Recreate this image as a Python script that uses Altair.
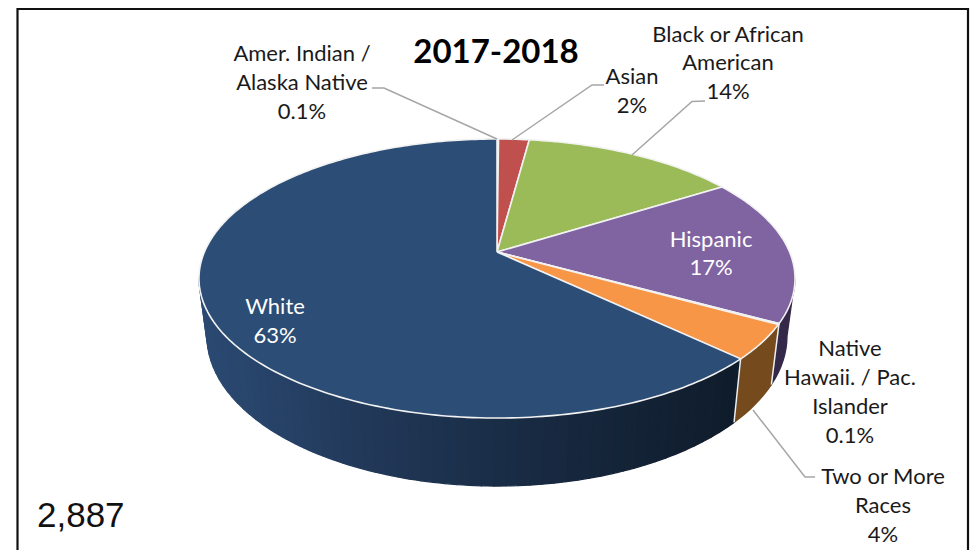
import math
import altair as alt
import pandas as pd

W, H = 962, 542

# Values, clockwise from 12 o'clock
groups = ["Amer. Indian / Alaska Native", "Asian", "Black or African American",
          "Hispanic", "Native Hawaii. / Pac. Islander", "Two or More Races", "White"]
shares = [0.1, 2, 14, 17, 0.1, 4, 63]
top_colors = ["#a5a5a5", "#c0504d", "#9bbb59", "#8064a2", "#4bacc6", "#f79646", "#2c4d75"]
wall_colors = ["#444444", "#6e2c2b", "#5a6e33", "#352949", "#2a6070", "#754a1c", "#1a2d47"]

title_text = "2017-2018"
total_text = "2,887"
label_lines = [
    ("Amer. Indian /", 302, 54, "#1a1a1a"), ("Alaska Native", 302, 83, "#1a1a1a"), ("0.1%", 302, 112, "#1a1a1a"),
    ("Asian", 632, 77, "#1a1a1a"), ("2%", 632, 106, "#1a1a1a"),
    ("Black or African", 728, 35, "#1a1a1a"), ("American", 728, 63, "#1a1a1a"), ("14%", 728, 92, "#1a1a1a"),
    ("Hispanic", 711, 240, "#ffffff"), ("17%", 711, 268, "#ffffff"),
    ("White", 275, 307, "#ffffff"), ("63%", 275, 336, "#ffffff"),
    ("Native", 850, 349, "#1a1a1a"), ("Hawaii. / Pac.", 850, 378, "#1a1a1a"),
    ("Islander", 850, 407, "#1a1a1a"), ("0.1%", 850, 436, "#1a1a1a"),
    ("Two or More", 883, 477, "#1a1a1a"), ("Races", 883, 506, "#1a1a1a"), ("4%", 883, 535, "#1a1a1a"),
]
leaders = [
    [(372, 88), (384, 88), (497, 139)],
    [(604, 85), (592, 85), (512, 140)],
    [(705, 101), (692, 101.5), (632, 155)],
    [(815, 477), (805, 477), (753, 410)],
]
frame_path = [(17.5, 550), (17.5, 9), (968, 9), (968, 550)]

# Pie geometry: tilted disc seen in perspective
CX, CY_APEX = 497.0, 252.0
ELL_CY, ELL_RX, ELL_RY = 278.5, 298.0, 139.5
BOT_CY, BOT_RX, BOT_RY = 336.0, 290.0, 150.0
C = -0.19
A = 134.5
D = 292.6


def top_point(frac):
    t = 2 * math.pi * frac
    u, v = math.sin(t), -math.cos(t)
    den = 1 + C * v
    return CX + D * u / den, CY_APEX + A * v / den


def phi_of(frac):
    x, y = top_point(frac)
    return math.atan2((y - ELL_CY) / ELL_RY, (x - CX) / ELL_RX)


def wall_quad(p0, p1, n):
    pts = []
    for k in range(n + 1):
        p = p0 + (p1 - p0) * k / n
        pts.append((CX + ELL_RX * math.cos(p), ELL_CY + ELL_RY * math.sin(p)))
    for k in range(n, -1, -1):
        p = p0 + (p1 - p0) * k / n
        pts.append((CX + BOT_RX * math.cos(p), BOT_CY + BOT_RY * math.sin(p)))
    pts.append(pts[0])
    return pts


grad_x = [199, 300, 400, 497, 600, 736]
grad_c = [(0x2b, 0x4a, 0x72), (0x25, 0x3f, 0x63), (0x1f, 0x35, 0x53),
          (0x1a, 0x2d, 0x47), (0x15, 0x25, 0x3a), (0x0f, 0x1c, 0x2b)]


def grad(x):
    for i in range(len(grad_x) - 1):
        if x <= grad_x[i + 1]:
            f = max(0.0, (x - grad_x[i]) / (grad_x[i + 1] - grad_x[i]))
            c = [round(a + (b - a) * f) for a, b in zip(grad_c[i], grad_c[i + 1])]
            return "#%02x%02x%02x" % tuple(c)
    return "#%02x%02x%02x" % grad_c[-1]


total = sum(shares)
edges = [0.0]
for s in shares:
    edges.append(edges[-1] + s / total)

top_rows, wall_rows, edge_rows = [], [], []
for i, g in enumerate(groups):
    a, b = edges[i], edges[i + 1]
    n = max(2, int((b - a) * 360))
    pts = [(CX, CY_APEX)] + [top_point(a + (b - a) * k / n) for k in range(n + 1)] + [(CX, CY_APEX)]
    for j, (x, y) in enumerate(pts):
        top_rows.append(dict(id=g, i=j, x=x, y=y, c=top_colors[i]))

# Visible wall: right silhouette through the front to the left silhouette
wall_spans = []
phi_hn, phi_nt, phi_tw = phi_of(edges[4]), phi_of(edges[5]), phi_of(edges[6])
wall_spans.append((0.0, phi_hn, wall_colors[3]))
wall_spans.append((phi_hn, phi_nt, wall_colors[4]))
wall_spans.append((phi_nt, phi_tw, wall_colors[5]))
sid = 0
for p0, p1, col in wall_spans:
    for j, (x, y) in enumerate(wall_quad(p0, p1, 8)):
        wall_rows.append(dict(id=sid, i=j, x=x, y=y, c=col))
    sid += 1
STRIPS = 60
for s in range(STRIPS):
    p0 = phi_tw + (math.pi - phi_tw) * s / STRIPS
    p1 = phi_tw + (math.pi - phi_tw) * (s + 1) / STRIPS
    col = grad(CX + ELL_RX * math.cos((p0 + p1) / 2))
    for j, (x, y) in enumerate(wall_quad(p0, p1, 2)):
        wall_rows.append(dict(id=sid, i=j, x=x, y=y, c=col))
    sid += 1

for k, p in enumerate([phi_hn, phi_tw]):
    edge_rows.append(dict(id=k, i=0, x=CX + ELL_RX * math.cos(p), y=ELL_CY + ELL_RY * math.sin(p)))
    edge_rows.append(dict(id=k, i=1, x=CX + BOT_RX * math.cos(p), y=BOT_CY + BOT_RY * math.sin(p)))

leader_rows = [dict(id=k, i=j, x=x, y=y) for k, L in enumerate(leaders) for j, (x, y) in enumerate(L)]
frame_rows = [dict(i=j, x=x, y=y) for j, (x, y) in enumerate(frame_path)]
text_rows = [dict(t=t, x=x, y=y, c=c) for t, x, y, c in label_lines]

X = alt.X("x:Q", scale=alt.Scale(domain=[8, 8 + W], range=[0, W]), axis=None)
Y = alt.Y("y:Q", scale=alt.Scale(domain=[8, 8 + H], range=[0, H]), axis=None)

walls = alt.Chart(pd.DataFrame(wall_rows)).mark_line(strokeWidth=1.3, strokeJoin="round", filled=True).encode(
    x=X, y=Y, order="i:Q", detail="id:N",
    fill=alt.Fill("c:N", scale=None), stroke=alt.Stroke("c:N", scale=None))
wall_edges = alt.Chart(pd.DataFrame(edge_rows)).mark_line(stroke="#f0f0f0", strokeWidth=1.5).encode(
    x=X, y=Y, order="i:Q", detail="id:N")
tops = alt.Chart(pd.DataFrame(top_rows)).mark_line(
    stroke="#f2f2f2", strokeWidth=1.6, strokeJoin="round", filled=True).encode(
    x=X, y=Y, order="i:Q", detail="id:N",
    fill=alt.Fill("c:N", scale=None))
lead = alt.Chart(pd.DataFrame(leader_rows)).mark_line(stroke="#a6a6a6", strokeWidth=1.5).encode(
    x=X, y=Y, order="i:Q", detail="id:N")
frames = alt.Chart(pd.DataFrame(frame_rows)).mark_line(stroke="#111111", strokeWidth=2.2).encode(
    x=X, y=Y, order="i:Q")
labels = alt.Chart(pd.DataFrame(text_rows)).mark_text(
    font="Lato", fontSize=22, align="center", baseline="middle").encode(
    x=X, y=Y, text="t:N", color=alt.Color("c:N", scale=None))
title = alt.Chart(pd.DataFrame([dict(t=title_text, x=496, y=53)])).mark_text(
    font="Lato", fontSize=33, fontWeight="bold", align="center", baseline="middle", color="#000000").encode(
    x=X, y=Y, text="t:N")
total_mark = alt.Chart(pd.DataFrame([dict(t=total_text, x=37, y=516)])).mark_text(
    font="Liberation Sans", fontSize=35, align="left", baseline="middle", color="#111111").encode(
    x=X, y=Y, text="t:N")

chart = alt.layer(walls, wall_edges, tops, lead, frames, labels, title, total_mark).properties(
    width=W, height=H, padding=0,
    autosize=alt.AutoSizeParams(type="none"),
    background="#ffffff",
).configure_view(stroke=None)

chart.save("out.html", embed_options={"renderer": "svg", "actions": False})
